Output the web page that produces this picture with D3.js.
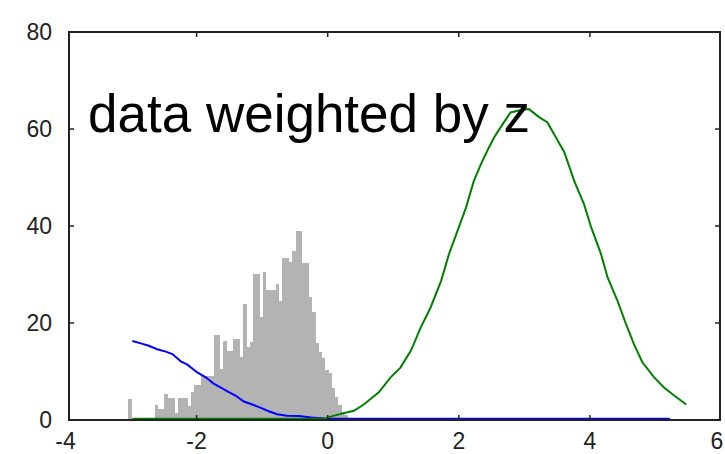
<!DOCTYPE html>
<html>
<head>
<meta charset="utf-8">
<script src="https://cdn.jsdelivr.net/npm/d3@7"></script>
<style>
  body { margin: 0; background: #fff; }
  svg { display: block; }
</style>
</head>
<body>
<div id="chart"></div>
<script>
// histogram of the data (bins of 0.05 starting at -3.04)
var histStart = -3.04;
var binWidth = 0.05;
var histCounts = [4.4,0,0,0,0,0,0,0,3.1,2.2,2.2,5.4,4.6,4.6,1.5,4.5,4.5,4.6,2.9,5.8,
  7.2,7.2,9,9,9,9,17.5,17.5,10.5,16.3,14.2,14.2,16.8,16.8,13,24,15.1,16,30.1,30.1,
  21.3,30.6,26.8,26.8,26.8,28,24.6,33.5,33.5,32.5,34.9,39,39,32.3,32.3,25.4,22.3,15.8,
  14.1,12.7,10.3,9.6,6.5,4.8,3.1,1.7,1];

// blue curve
var blueX = [-2.98,-2.85,-2.73,-2.60,-2.47,-2.37,-2.24,-2.14,-1.99,-1.86,-1.74,-1.63,-1.53,
  -1.40,-1.28,-1.15,-1.02,-0.90,-0.77,-0.62,-0.44,-0.25,-0.05,0.2,1,2,3,4,5.22];
var blueY = [16.3,15.8,15.3,14.6,14.1,13.6,12.1,11.4,9.8,8.8,7.5,6.7,5.9,
  5.0,3.8,3.2,2.5,1.8,1.2,0.9,0.8,0.5,0.3,0.25,0.25,0.25,0.25,0.25,0.25];

// green curve
var greenX = [-2.98,-1,-0.06,0.07,0.27,0.40,0.55,0.78,0.96,1.11,1.27,1.42,1.57,1.73,1.85,
  1.98,2.11,2.23,2.34,2.46,2.54,2.67,2.79,2.95,3.07,3.23,3.35,3.51,3.61,3.76,3.91,
  4.02,4.17,4.27,4.42,4.55,4.67,4.80,4.98,5.13,5.29,5.47];
var greenY = [0.25,0.25,0.25,0.8,1.5,1.9,3.2,5.7,8.8,10.8,14.3,19.1,23.2,28.7,34.2,
  39.0,43.8,49.3,52.8,56.2,58.3,61.0,63.4,63.9,64.1,62.4,61.4,57.6,55.2,49.3,44.5,
  39.7,34.2,29.4,24.6,19.8,15.7,11.9,8.8,6.7,5.0,3.2];

var xTicks = [-4, -2, 0, 2, 4, 6];
var yTicks = [0, 20, 40, 60, 80];
var label = "data weighted by z";

var width = 725, height = 454;
var box = { left: 69, right: 720, top: 32, bottom: 420 };

var svg = d3.select("#chart")
  .append("svg")
  .attr("width", width)
  .attr("height", height);

var x = d3.scaleLinear().domain([-4, 6]).range([65.5, 721]);
var y = d3.scaleLinear().domain([0, 80]).range([box.bottom, box.top]);

// histogram bars
var bins = histCounts.map(function(c, i) {
  return { x0: histStart + i * binWidth, x1: histStart + (i + 1) * binWidth, n: c };
});

svg.append("g")
  .selectAll("rect")
  .data(bins.filter(function(d) { return d.n > 0; }))
  .enter()
  .append("rect")
  .attr("x", function(d) { return x(d.x0); })
  .attr("width", function(d) { return x(d.x1) - x(d.x0) + 0.3; })
  .attr("y", function(d) { return y(d.n); })
  .attr("height", function(d) { return y(0) - y(d.n); })
  .attr("fill", "#b3b3b3")
  .attr("shape-rendering", "crispEdges");

var line = d3.line()
  .x(function(d) { return x(d[0]); })
  .y(function(d) { return y(d[1]); });

svg.append("path")
  .datum(d3.zip(blueX, blueY))
  .attr("d", line)
  .attr("fill", "none")
  .attr("stroke", "#0000ff")
  .attr("stroke-width", 2);

svg.append("path")
  .datum(d3.zip(greenX, greenY))
  .attr("d", line)
  .attr("fill", "none")
  .attr("stroke", "#008000")
  .attr("stroke-width", 2);

// frame
svg.append("rect")
  .attr("x", box.left)
  .attr("y", box.top)
  .attr("width", box.right - box.left)
  .attr("height", box.bottom - box.top)
  .attr("fill", "none")
  .attr("stroke", "#222")
  .attr("stroke-width", 2);

// inner ticks on all sides
var tickLen = 5;
var innerX = xTicks.filter(function(t) { return t > -4 && t < 6; });
var innerY = yTicks.filter(function(t) { return t > 0 && t < 80; });

var ticks = svg.append("g").attr("stroke", "#222").attr("stroke-width", 1.5);
innerX.forEach(function(t) {
  ticks.append("line").attr("x1", x(t)).attr("x2", x(t))
    .attr("y1", box.bottom).attr("y2", box.bottom - tickLen);
  ticks.append("line").attr("x1", x(t)).attr("x2", x(t))
    .attr("y1", box.top).attr("y2", box.top + tickLen);
});
innerY.forEach(function(t) {
  ticks.append("line").attr("x1", box.left).attr("x2", box.left + tickLen)
    .attr("y1", y(t)).attr("y2", y(t));
  ticks.append("line").attr("x1", box.right).attr("x2", box.right - tickLen)
    .attr("y1", y(t)).attr("y2", y(t));
});

// tick labels
svg.append("g")
  .selectAll("text")
  .data(yTicks)
  .enter()
  .append("text")
  .attr("x", 52)
  .attr("y", function(d) { return y(d); })
  .attr("dy", "0.35em")
  .attr("text-anchor", "end")
  .attr("font-family", "Liberation Sans, Arial, sans-serif")
  .attr("font-size", 23)
  .attr("fill", "#222")
  .text(function(d) { return d; });

// last label sits on the window edge, as in the reference
svg.append("g")
  .selectAll("text")
  .data(xTicks)
  .enter()
  .append("text")
  .attr("x", function(d) { return d === 6 ? x(d) - 4 : x(d); })
  .attr("y", 449)
  .attr("text-anchor", "middle")
  .attr("font-family", "Liberation Sans, Arial, sans-serif")
  .attr("font-size", 23)
  .attr("fill", "#222")
  .text(function(d) { return d < 0 ? "-" + Math.abs(d) : d; });

// annotation
svg.append("text")
  .attr("x", 88)
  .attr("y", 132)
  .attr("font-family", "Liberation Sans, Arial, sans-serif")
  .attr("font-size", 53)
  .attr("fill", "#000")
  .text(label);
</script>
</body>
</html>
